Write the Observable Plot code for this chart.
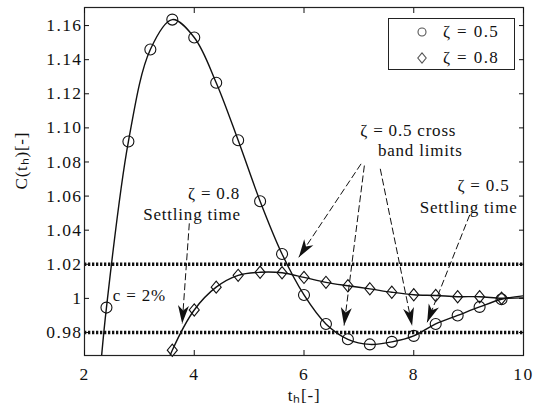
<!DOCTYPE html>
<html><head><meta charset="utf-8">
<script src="https://cdn.jsdelivr.net/npm/d3@7"></script>
<script src="https://cdn.jsdelivr.net/npm/@observablehq/plot@0.6"></script>
<style>
body{margin:0;background:#fff;}
#wrap{position:relative;width:540px;height:412px;font-family:"Liberation Serif","Times New Roman",serif;color:#111;}
#wrap svg g[aria-label="y-axis tick label"] text,
#wrap svg g[aria-label="x-axis tick label"] text{letter-spacing:1.4px;}
#wrap svg g[aria-label="text"] text{letter-spacing:0.8px;}
#legend{position:absolute;left:388px;top:18px;width:127px;height:52px;border:1px solid #222;background:#fff;box-sizing:border-box;font-size:17px;}
#legend svg{position:absolute;}
#legend span{position:absolute;white-space:nowrap;letter-spacing:1.4px;line-height:20px;}
</style>
</head><body><div id="wrap"></div>
<script>
// ---- data ----
const tMarkers = [2.4, 2.8, 3.2, 3.6, 4.0, 4.4, 4.8, 5.2, 5.6, 6.0, 6.4, 6.8, 7.2, 7.6, 8.0, 8.4, 8.8, 9.2, 9.6];
const c05 = [0.9946, 1.092, 1.146, 1.1635, 1.153, 1.1265, 1.0927, 1.057, 1.026, 1.002, 0.985, 0.976, 0.973, 0.9745, 0.978, 0.985, 0.990, 0.995, 0.9995];
const c08 = [null, null, null, 0.9696, 0.9932, 1.0066, 1.0135, 1.0153, 1.015, 1.0123, 1.0094, 1.0074, 1.0056, 1.0036, 1.0021, 1.0017, 1.001, 1.001, 1.0001];
// curve ends (where each line leaves the axes / reaches t = 10)
const start05 = [2.3, 0.962], end05 = [10, 1.0015];
const start08 = [3.5, 0.961], end08 = [10, 1.0003];
const bandLimits = [0.98, 1.02];
const xTicks = [2, 4, 6, 8, 10];
const yTicks = [0.98, 1, 1.02, 1.04, 1.06, 1.08, 1.10, 1.12, 1.14, 1.16];
const yTickLabels = ["0.98", "1", "1.02", "1.04", "1.06", "1.08", "1.10", "1.12", "1.14", "1.16"];
const seriesNames = ["ζ = 0.5", "ζ = 0.8"];
const xLabel = "tₕ[-]";
const yLabel = "C(tₕ)[-]";
// annotations (data coordinates)
const noteText = ["ζ = 0.8", "Settling time", "ζ = 0.5 cross", "band limits", "ζ = 0.5", "Settling time", "c = 2%"];
const noteT = [4.36, 3.96, 7.90, 8.12, 9.27, 9.00, 3.00];
const noteC = [1.0617, 1.0491, 1.0984, 1.0867, 1.0664, 1.0531, 1.0017];
const arrowT1 = [3.91, 7.04, 7.10, 7.39, 9.02];
const arrowC1 = [1.0440, 1.0789, 1.0779, 1.076, 1.0490];
const arrowT2 = [3.78, 5.905, 6.73, 7.97, 8.245];
const arrowC2 = [0.9853, 1.0241, 0.9841, 0.984, 0.986];

// ---- tables ----
const pts05 = tMarkers.map((t, i) => ({t, c: c05[i]}));
const pts08 = tMarkers.map((t, i) => ({t, c: c08[i]})).filter(d => d.c != null);
const line05 = [{t: start05[0], c: start05[1]}, ...pts05, {t: end05[0], c: end05[1]}];
const line08 = [{t: start08[0], c: start08[1]}, ...pts08, {t: end08[0], c: end08[1]}];
const notes = noteText.map((s, i) => ({s, t: noteT[i], c: noteC[i]}));
const arrows = arrowT1.map((t, i) => ({t1: t, c1: arrowC1[i], t2: arrowT2[i], c2: arrowC2[i]}));

const fmtY = d => yTickLabels[yTicks.findIndex(v => Math.abs(v - d) < 1e-9)];

// MATLAB-like diamond (slightly taller than wide)
const diamondSym = {
  draw(ctx, size) {
    const r = Math.sqrt(size / Math.PI);
    const w = r * 0.95, h = r * 1.15;
    ctx.moveTo(0, -h); ctx.lineTo(w, 0); ctx.lineTo(0, h); ctx.lineTo(-w, 0); ctx.closePath();
  }
};

const chart = Plot.plot({
  width: 540, height: 412,
  marginLeft: 84, marginRight: 17, marginTop: 7, marginBottom: 57,
  style: {fontFamily: "'Liberation Serif', 'Times New Roman', serif", fontSize: "17.5px", color: "#111", background: "#fff"},
  x: {domain: [2, 10]},
  y: {domain: [0.9665, 1.1706]},
  marks: [
    Plot.ruleY(bandLimits, {stroke: "#111", strokeWidth: 3.4, strokeDasharray: "2.3,1.7"}),
    Plot.line(line05, {x: "t", y: "c", curve: "catmull-rom", stroke: "#111", strokeWidth: 1.4, clip: true}),
    Plot.line(line08, {x: "t", y: "c", curve: "catmull-rom", stroke: "#111", strokeWidth: 1.4, clip: true}),
    Plot.dot(pts05, {x: "t", y: "c", r: 5.5, symbol: "circle", stroke: "#111", strokeWidth: 1.1, fill: "none"}),
    Plot.dot(pts08, {x: "t", y: "c", r: 5.3, symbol: diamondSym, stroke: "#111", strokeWidth: 1.1, fill: "none"}),
    Plot.link(arrows, {x1: "t1", y1: "c1", x2: "t2", y2: "c2", stroke: "#111", strokeWidth: 1, strokeDasharray: "7,3", markerEnd: "arrow"}),
    Plot.text(notes, {x: "t", y: "c", text: "s", fill: "#111", fontSize: 17}),
    Plot.frame({stroke: "#222", strokeWidth: 1.2}),
    Plot.axisX(xTicks, {anchor: "bottom", tickSize: -5, tickPadding: 17, label: null, fontSize: 17.5}),
    Plot.axisX(xTicks, {anchor: "top", tickSize: -5, tickFormat: () => "", label: null}),
    Plot.axisY(yTicks, {anchor: "left", tickSize: -5, tickPadding: 7, tickFormat: fmtY, label: null, fontSize: 17.5}),
    Plot.axisY(yTicks, {anchor: "right", tickSize: -5, tickFormat: () => "", label: null}),
    Plot.text([yLabel], {frameAnchor: "left", dx: -63, dy: 8, rotate: -90, fontSize: 17, fill: "#111"}),
    Plot.text([xLabel], {frameAnchor: "bottom", dx: 0, dy: 45, fontSize: 17, fill: "#111"})
  ]
});

// filled, notched arrowheads on the annotation arrows
chart.querySelectorAll("marker").forEach(m => {
  m.setAttribute("viewBox", "-10 -10 20 20");
  m.setAttribute("markerWidth", 20);
  m.setAttribute("markerHeight", 20);
  m.setAttribute("refX", 9);
  m.setAttribute("refY", 0);
  m.setAttribute("markerUnits", "userSpaceOnUse");
  m.setAttribute("stroke-dasharray", "none");
  m.innerHTML = '<path d="M-9,-5.5L9,0L-9,5.5L-4,0Z" fill="#111" stroke="none"/>';
});

const wrap = document.getElementById("wrap");
wrap.appendChild(chart);

// legend (box in the upper right corner)
const lg = document.createElement("div");
lg.id = "legend";
const legendSyms = [d3.symbol(d3.symbolCircle, Math.PI * 16)(), null];
seriesNames.forEach((name, i) => {
  const cy = 14 + i * 26; // centre of row inside the box
  const path = i === 0 ? legendSyms[0] : "M0,-5.2L4.2,0L0,5.2L-4.2,0Z";
  const s = document.createElementNS("http://www.w3.org/2000/svg", "svg");
  s.setAttribute("width", 14); s.setAttribute("height", 14);
  s.setAttribute("viewBox", "-7 -7 14 14");
  s.style.left = (34 - 7 - 1) + "px"; s.style.top = (cy - 7 - 1) + "px";
  s.innerHTML = `<path d="${path}" fill="none" stroke="#555" stroke-width="1.1"/>`;
  lg.appendChild(s);
  const sp = document.createElement("span");
  sp.textContent = name;
  sp.style.left = (55 - 1) + "px"; sp.style.top = (cy - 10 - 1) + "px";
  lg.appendChild(sp);
});
wrap.appendChild(lg);
</script>
</body></html>
